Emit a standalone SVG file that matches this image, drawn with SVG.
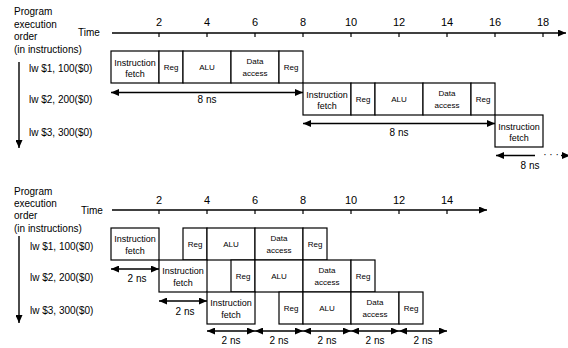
<svg xmlns="http://www.w3.org/2000/svg" width="568" height="348" viewBox="0 0 568 348">
<defs>
<style>
text{font-family:"Liberation Sans",Arial,sans-serif;fill:#000}
.lbl{font-size:10px}
.tick{font-size:11px;text-anchor:middle}
.bx{font-size:8px;text-anchor:middle}
.if{font-size:9px;text-anchor:middle}
.ns{font-size:10px;text-anchor:middle}
rect.b{fill:#fff;stroke:#000;stroke-width:1.2}
.ax{stroke:#000;stroke-width:1.4;fill:none}
.tk{stroke:#000;stroke-width:1.2}
.ar{stroke:#000;stroke-width:1.4;fill:none}
</style>
<marker id="ah" viewBox="0 0 8 7" refX="8" refY="3.5" markerWidth="8" markerHeight="7" markerUnits="userSpaceOnUse" orient="auto-start-reverse">
<path d="M0,0 L8,3.5 L0,7 z" fill="#000"/>
</marker>
</defs>
<rect width="568" height="348" fill="#fff"/>

<!-- ============ TOP DIAGRAM ============ -->
<g id="top-labels">
<text class="lbl" x="14" y="15">Program</text>
<text class="lbl" x="14" y="27.5">execution</text>
<text class="lbl" x="14" y="39.5">order</text>
<text class="lbl" x="14" y="52.5">(in instructions)</text>
<text class="lbl" x="78" y="35.5">Time</text>
<text class="lbl" x="29" y="71.5">lw $1, 100($0)</text>
<text class="lbl" x="29" y="102.5">lw $2, 200($0)</text>
<text class="lbl" x="29" y="135.5">lw $3, 300($0)</text>
<text class="tick" x="159" y="25.5">2</text>
<text class="tick" x="207" y="25.5">4</text>
<text class="tick" x="255" y="25.5">6</text>
<text class="tick" x="303" y="25.5">8</text>
<text class="tick" x="351" y="25.5">10</text>
<text class="tick" x="399" y="25.5">12</text>
<text class="tick" x="447" y="25.5">14</text>
<text class="tick" x="495" y="25.5">16</text>
<text class="tick" x="543" y="25.5">18</text>
</g>

<g id="t1-if"><rect class="b" x="111" y="51" width="48" height="32"/><text class="if" x="135" y="65.5">Instruction</text><text class="if" x="135" y="76.5">fetch</text></g>
<g id="t1-reg1"><rect class="b" x="159" y="51" width="24" height="32"/><text class="bx" x="171" y="70">Reg</text></g>
<g id="t1-alu"><rect class="b" x="183" y="51" width="48" height="32"/><text class="bx" x="207" y="70">ALU</text></g>
<g id="t1-data"><rect class="b" x="231" y="51" width="48" height="32"/><text class="bx" x="255" y="64">Data</text><text class="bx" x="255" y="75.5">access</text></g>
<g id="t1-reg2"><rect class="b" x="279" y="51" width="24" height="32"/><text class="bx" x="291" y="70">Reg</text></g>

<g id="t2-if"><rect class="b" x="303" y="83" width="48" height="32"/><text class="if" x="327" y="97.5">Instruction</text><text class="if" x="327" y="108.5">fetch</text></g>
<g id="t2-reg1"><rect class="b" x="351" y="83" width="24" height="32"/><text class="bx" x="363" y="102">Reg</text></g>
<g id="t2-alu"><rect class="b" x="375" y="83" width="48" height="32"/><text class="bx" x="399" y="102">ALU</text></g>
<g id="t2-data"><rect class="b" x="423" y="83" width="48" height="32"/><text class="bx" x="447" y="96">Data</text><text class="bx" x="447" y="107.5">access</text></g>
<g id="t2-reg2"><rect class="b" x="471" y="83" width="24" height="32"/><text class="bx" x="483" y="102">Reg</text></g>

<g id="t3-if"><rect class="b" x="495" y="115" width="48" height="32"/><text class="if" x="519" y="129.5">Instruction</text><text class="if" x="519" y="140.5">fetch</text></g>

<g id="top-connectors">
<line class="ax" x1="112" y1="33" x2="566" y2="33" marker-end="url(#ah)"/>
<path class="tk" d="M159,33v4M207,33v4M255,33v4M303,33v4M351,33v4M399,33v4M447,33v4M495,33v4M543,33v4"/>
<line class="ar" x1="19" y1="62" x2="19" y2="148" marker-end="url(#ah)"/>
<line class="ar" x1="111" y1="92.5" x2="303" y2="92.5" marker-start="url(#ah)" marker-end="url(#ah)"/>
<line class="ar" x1="303" y1="123.5" x2="495" y2="123.5" marker-start="url(#ah)" marker-end="url(#ah)"/>
<line class="ar" x1="496" y1="155.5" x2="535" y2="155.5" marker-start="url(#ah)"/>
<line class="ar" x1="561" y1="155.5" x2="570" y2="155.5" marker-end="url(#ah)"/>
<text class="ns" x="551" y="158">· · ·</text>
<text class="ns" x="207" y="102.5">8 ns</text>
<text class="ns" x="399" y="136">8 ns</text>
<text class="ns" x="530" y="168.5">8 ns</text>
</g>

<!-- ============ BOTTOM DIAGRAM ============ -->
<g id="bottom-labels">
<text class="lbl" x="14" y="195">Program</text>
<text class="lbl" x="14" y="206.5">execution</text>
<text class="lbl" x="14" y="219">order</text>
<text class="lbl" x="14" y="231.5">(in instructions)</text>
<text class="lbl" x="81" y="213.5">Time</text>
<text class="lbl" x="30" y="250">lw $1, 100($0)</text>
<text class="lbl" x="30" y="281">lw $2, 200($0)</text>
<text class="lbl" x="30" y="313.5">lw $3, 300($0)</text>
<text class="tick" x="159" y="203.5">2</text>
<text class="tick" x="207" y="203.5">4</text>
<text class="tick" x="255" y="203.5">6</text>
<text class="tick" x="303" y="203.5">8</text>
<text class="tick" x="351" y="203.5">10</text>
<text class="tick" x="399" y="203.5">12</text>
<text class="tick" x="447" y="203.5">14</text>
</g>

<g id="b1-if"><rect class="b" x="111" y="228" width="48" height="32"/><text class="if" x="135" y="241.5">Instruction</text><text class="if" x="135" y="253.5">fetch</text></g>
<g id="b1-reg1"><rect class="b" x="183" y="228" width="24" height="32"/><text class="bx" x="195" y="247">Reg</text></g>
<g id="b1-alu"><rect class="b" x="207" y="228" width="48" height="32"/><text class="bx" x="231" y="247">ALU</text></g>
<g id="b1-data"><rect class="b" x="255" y="228" width="48" height="32"/><text class="bx" x="279" y="241">Data</text><text class="bx" x="279" y="252.5">access</text></g>
<g id="b1-reg2"><rect class="b" x="303" y="228" width="24" height="32"/><text class="bx" x="315" y="247">Reg</text></g>

<g id="b2-if"><rect class="b" x="159" y="260" width="48" height="32"/><text class="if" x="183" y="273.5">Instruction</text><text class="if" x="183" y="285.5">fetch</text></g>
<g id="b2-reg1"><rect class="b" x="231" y="260" width="24" height="32"/><text class="bx" x="243" y="279">Reg</text></g>
<g id="b2-alu"><rect class="b" x="255" y="260" width="48" height="32"/><text class="bx" x="279" y="279">ALU</text></g>
<g id="b2-data"><rect class="b" x="303" y="260" width="48" height="32"/><text class="bx" x="327" y="273">Data</text><text class="bx" x="327" y="284.5">access</text></g>
<g id="b2-reg2"><rect class="b" x="351" y="260" width="24" height="32"/><text class="bx" x="363" y="279">Reg</text></g>

<g id="b3-if"><rect class="b" x="207" y="292" width="48" height="32"/><text class="if" x="231" y="305.5">Instruction</text><text class="if" x="231" y="317.5">fetch</text></g>
<g id="b3-reg1"><rect class="b" x="279" y="292" width="24" height="32"/><text class="bx" x="291" y="311">Reg</text></g>
<g id="b3-alu"><rect class="b" x="303" y="292" width="48" height="32"/><text class="bx" x="327" y="311">ALU</text></g>
<g id="b3-data"><rect class="b" x="351" y="292" width="48" height="32"/><text class="bx" x="375" y="305">Data</text><text class="bx" x="375" y="316.5">access</text></g>
<g id="b3-reg2"><rect class="b" x="399" y="292" width="24" height="32"/><text class="bx" x="411" y="311">Reg</text></g>

<g id="bottom-connectors">
<line class="ax" x1="112" y1="210" x2="487" y2="210" marker-end="url(#ah)"/>
<path class="tk" d="M159,210v4M207,210v4M255,210v4M303,210v4M351,210v4M399,210v4M447,210v4"/>
<line class="ar" x1="19" y1="236" x2="19" y2="323" marker-end="url(#ah)"/>
<line class="ar" x1="111" y1="269" x2="159" y2="269" marker-start="url(#ah)" marker-end="url(#ah)"/>
<line class="ar" x1="159" y1="301" x2="207" y2="301" marker-start="url(#ah)" marker-end="url(#ah)"/>
<line class="ar" x1="207" y1="331" x2="255" y2="331" marker-start="url(#ah)" marker-end="url(#ah)"/>
<line class="ar" x1="255" y1="331" x2="303" y2="331" marker-start="url(#ah)" marker-end="url(#ah)"/>
<line class="ar" x1="303" y1="331" x2="351" y2="331" marker-start="url(#ah)" marker-end="url(#ah)"/>
<line class="ar" x1="351" y1="331" x2="399" y2="331" marker-start="url(#ah)" marker-end="url(#ah)"/>
<line class="ar" x1="399" y1="331" x2="447" y2="331" marker-start="url(#ah)" marker-end="url(#ah)"/>
<text class="ns" x="137" y="281.5">2 ns</text>
<text class="ns" x="185" y="315">2 ns</text>
<text class="ns" x="231" y="344">2 ns</text>
<text class="ns" x="279" y="344">2 ns</text>
<text class="ns" x="327" y="344">2 ns</text>
<text class="ns" x="375" y="344">2 ns</text>
<text class="ns" x="423" y="344">2 ns</text>
</g>
</svg>
